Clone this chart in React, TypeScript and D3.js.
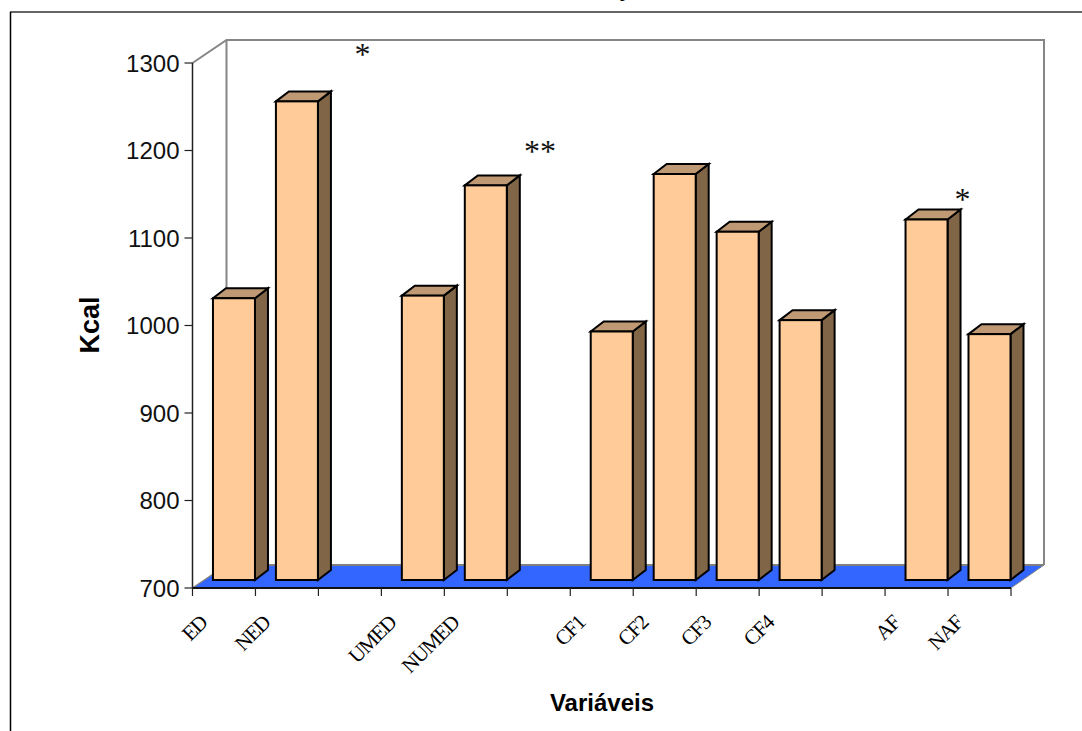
import React from "react";
import * as d3 from "d3";

const categories = ["ED", "NED", "gap1", "UMED", "NUMED", "gap2", "CF1", "CF2", "CF3", "CF4", "gap3", "AF", "NAF"];
const labels = ["ED", "NED", "", "UMED", "NUMED", "", "CF1", "CF2", "CF3", "CF4", "", "AF", "NAF"];
const values = [1022, 1247, null, 1025, 1151, null, 984, 1164, 1098, 997, null, 1112, 981];
const yTicks = [700, 800, 900, 1000, 1100, 1200, 1300];
const stars = [
  { text: "*", slot: 2.0, value: 1323 },
  { text: "**", slot: 4.82, value: 1212 },
  { text: "*", slot: 11.53, value: 1158 },
];

const x0 = 192.5, x1 = 1011, yBottom = 588, yTop = 63;
const depthX = 34, depthY = -23;
const barDX = 13, barDY = -10;

const x = d3.scaleBand<string>().domain(categories).range([x0, x1]);
const y = d3.scaleLinear().domain([700, 1300]).range([yBottom, yTop]);
const points = (p: number[][]) => p.map((q) => q.join(",")).join(" ");

export default function App() {
  const bw = x.bandwidth();
  return (
    <svg width={1082} height={731} style={{ position: "absolute", left: 0, top: 0, background: "#fff" }}
      fontFamily="'Liberation Sans', Arial, sans-serif">
      {/* outer frame: top and left only */}
      <line x1={10} y1={12} x2={1082} y2={12} stroke="#333" strokeWidth={1.5} />
      <line x1={10.5} y1={12} x2={10.5} y2={731} stroke="#000" strokeWidth={1.5} />
      <text x={625} y={-3} fontSize={20} fontWeight="bold" textAnchor="middle">y</text>

      {/* back walls */}
      <polyline fill="none" stroke="#868686" strokeWidth={2}
        points={points([[x0, yTop], [x0 + depthX, yTop + depthY], [x1 + depthX - 1, yTop + depthY], [x1 + depthX - 1, yBottom + depthY]])} />
      <line x1={x0 + depthX} y1={yTop + depthY} x2={x0 + depthX} y2={yBottom + depthY} stroke="#868686" strokeWidth={2} />

      {/* floor */}
      <polygon fill="#3366FF"
        points={points([[x0, yBottom], [x1, yBottom], [x1 + depthX - 1, yBottom + depthY], [x0 + depthX, yBottom + depthY]])} />
      <line x1={x0 + depthX} y1={yBottom + depthY} x2={x1 + depthX - 1} y2={yBottom + depthY} stroke="#808080" strokeWidth={2} />
      <line x1={x0} y1={yBottom} x2={x0 + depthX} y2={yBottom + depthY} stroke="#808080" strokeWidth={1.5} />
      <line x1={x1} y1={yBottom} x2={x1 + depthX - 1} y2={yBottom + depthY} stroke="#808080" strokeWidth={1} />

      {/* axes */}
      <line x1={x0} y1={yTop} x2={x0} y2={yBottom} stroke="#222" strokeWidth={1.5} />
      <line x1={x0} y1={yBottom} x2={x1} y2={yBottom} stroke="#111" strokeWidth={1.8} />
      {yTicks.map((t) => (
        <g key={t}>
          <line x1={x0 - 8} x2={x0} y1={y(t)} y2={y(t)} stroke="#222" strokeWidth={1.2} />
          <text x={x0 - 13} y={y(t)} dy="0.36em" textAnchor="end" fontSize={24} fill="#111">{t}</text>
        </g>
      ))}
      {[...categories.map((c) => x(c)!), x1].map((px, i) => (
        <line key={i} x1={px} x2={px} y1={yBottom} y2={yBottom + 8} stroke="#222" strokeWidth={1.2} />
      ))}

      {/* bars */}
      {categories.map((c, i) => {
        const v = values[i];
        if (v == null) return null;
        const right = x(c)! + bw - 0.5;
        const left = right - 42;
        const base = yBottom - 8;
        const top = y(v) - 8;
        return (
          <g key={c} stroke="#000" strokeWidth={2} strokeLinejoin="miter">
            <polygon fill="#806647" points={points([[right, top], [right + barDX, top + barDY], [right + barDX, base + barDY], [right, base]])} />
            <polygon fill="#BF9973" points={points([[left, top], [left + barDX, top + barDY], [right + barDX, top + barDY], [right, top]])} />
            <rect x={left} y={top} width={42} height={base - top} fill="#FFCC99" />
          </g>
        );
      })}

      {/* rotated category labels */}
      {labels.map((l, i) => {
        if (!l) return null;
        const px = x(categories[i])! + 16;
        return (
          <text key={categories[i]} transform={`translate(${px},${yBottom + 36}) rotate(-45)`} textAnchor="end"
            fontFamily="'Liberation Serif', 'Times New Roman', serif" fontSize={21} letterSpacing={-1.2} fill="#000">{l}</text>
        );
      })}

      {/* significance marks */}
      {stars.map((s, i) => (
        <text key={i} x={x0 + s.slot * bw + 44} y={y(s.value)} dy="0.7em" textAnchor="middle"
          fontFamily="'Liberation Serif', serif" fontSize={32} fill="#111">{s.text}</text>
      ))}

      <text transform="translate(99,325) rotate(-90)" textAnchor="middle" fontSize={27} fontWeight="bold">Kcal</text>
      <text x={602} y={711} textAnchor="middle" fontSize={24} fontWeight="bold">Variáveis</text>
    </svg>
  );
}
